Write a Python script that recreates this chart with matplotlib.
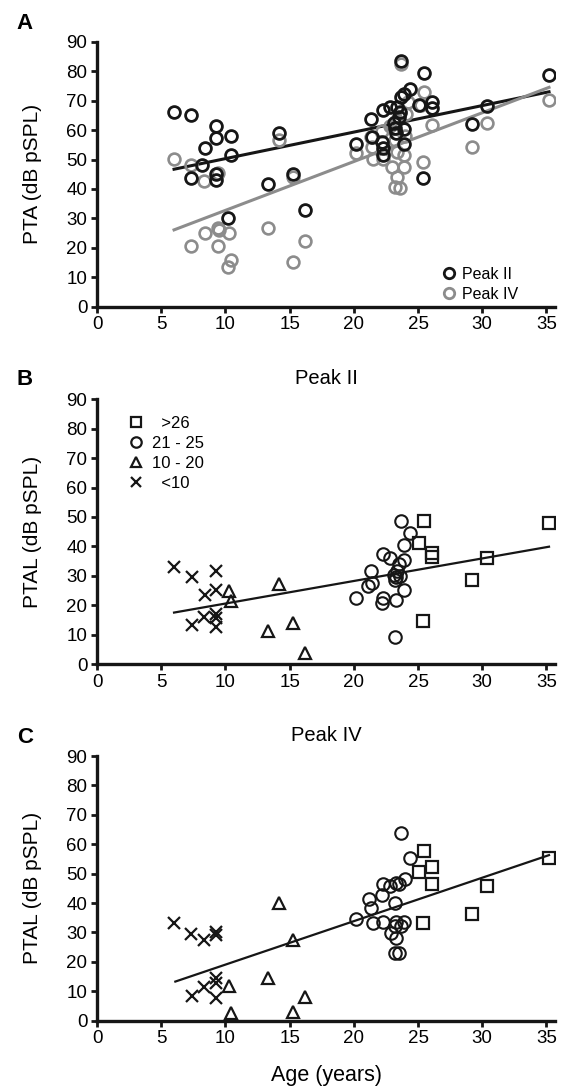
import matplotlib
matplotlib.use("Agg")
import matplotlib.pyplot as plt
from matplotlib.lines import Line2D

plt.rcParams["font.family"] = ["Liberation Sans", "DejaVu Sans"]

# ---- panel A: PTA vs age ----
a2_age = [6.0, 7.3, 9.3, 9.3, 10.4, 8.4, 10.4, 8.2, 7.3, 9.3, 9.3, 14.2, 13.3, 15.3, 16.2, 10.2,
          23.7, 25.5, 35.2, 24.4, 23.9, 23.7, 22.8, 22.3, 23.4, 26.1, 26.1, 21.3, 30.4, 29.2,
          23.2, 20.2, 23.9, 22.3, 22.3, 25.4, 23.5, 23.1, 23.3, 23.6, 21.4, 22.2, 25.1, 23.9]
a2_pta = [66.0, 65.0, 61.4, 57.2, 58.0, 53.8, 51.5, 48.0, 43.6, 43.0, 45.0, 59.0, 41.6, 45.0, 33.0, 30.0,
          83.6, 79.5, 78.7, 73.8, 72.2, 71.3, 67.9, 66.8, 67.9, 69.6, 67.4, 63.6, 68.2, 62.1,
          60.6, 55.2, 55.2, 53.8, 51.5, 43.6, 64.5, 62.5, 59.0, 66.0, 57.5, 56.0, 68.5, 60.5]
a4_age = [6.0, 7.3, 8.3, 9.4, 14.2, 15.3, 7.3, 8.4, 9.4, 9.5, 10.3, 9.4, 10.4, 10.2, 13.3, 16.2, 15.3,
          23.7, 35.2, 25.5, 24.2, 25.2, 30.4, 29.2, 26.1, 20.2, 25.4, 21.3, 21.4, 21.5, 22.3,
          22.2, 23.2, 23.4, 23.9, 23.0, 23.9, 23.4, 23.2, 23.6, 23.6, 24.1, 22.8, 23.3, 24.0]
a4_pta = [50.2, 48.1, 42.8, 45.5, 56.6, 44.2, 20.7, 25.1, 26.8, 26.0, 25.1, 20.7, 15.9, 13.4, 26.8, 22.3, 15.3,
          82.5, 70.2, 73.0, 69.6, 68.5, 62.3, 54.3, 61.7, 52.3, 49.3, 57.7, 54.3, 50.3, 50.3,
          59.6, 56.5, 52.5, 51.5, 47.6, 47.6, 44.2, 40.8, 40.2, 65.9, 65.3, 61.5, 63.0, 58.0]
a2_fit_x = [6.0, 35.2]
a2_fit_y = [46.7, 73.0]
a4_fit_x = [6.0, 35.2]
a4_fit_y = [26.1, 74.5]

# ---- panel B: PTAL Peak II, grouped by age ----
b_sq_age = [25.5, 35.2, 25.1, 26.1, 26.1, 30.4, 29.2, 25.4]
b_sq_val = [48.6, 48.1, 41.3, 37.9, 36.5, 36.2, 28.6, 14.7]
b_ci_age = [23.7, 24.4, 23.9, 22.3, 22.8, 23.9, 23.5, 21.3, 23.1, 23.3, 23.6, 23.2, 21.4,
            21.1, 23.9, 20.2, 22.3, 22.2, 23.3, 23.2, 23.4]
b_ci_val = [48.6, 44.4, 40.5, 37.3, 36.2, 35.4, 34.0, 31.7, 30.3, 29.7, 29.9, 28.6, 27.7,
            26.5, 25.2, 22.3, 22.3, 20.9, 21.8, 9.3, 31.5]
b_tr_age = [10.3, 10.4, 14.2, 13.3, 15.3, 16.2]
b_tr_val = [24.9, 21.5, 27.2, 11.3, 13.8, 3.9]
b_x_age = [6.0, 7.4, 9.3, 8.4, 9.3, 7.4, 8.3, 9.3, 9.3, 9.3]
b_x_val = [32.9, 29.7, 31.7, 23.5, 25.2, 13.3, 16.1, 17.0, 15.5, 12.7]
b_fit_x = [6.0, 35.2]
b_fit_y = [17.5, 39.9]

# ---- panel C: PTAL Peak IV ----
c_sq_age = [25.5, 35.2, 25.1, 26.1, 26.1, 30.4, 29.2, 25.4]
c_sq_val = [57.7, 55.2, 50.7, 52.2, 46.5, 45.8, 36.3, 33.1]
c_ci_age = [23.7, 24.4, 24.0, 23.3, 23.5, 22.3, 22.8, 22.2, 21.2, 21.3, 23.2, 20.2, 21.5,
            22.3, 23.3, 23.9, 23.7, 23.2, 22.9, 23.3, 23.2, 23.5]
c_ci_val = [63.9, 55.2, 48.1, 46.7, 46.5, 46.5, 45.8, 42.7, 41.3, 38.2, 40.1, 34.5, 33.3,
            33.6, 33.6, 33.6, 32.2, 32.2, 29.9, 28.0, 23.1, 23.1]
c_tr_age = [14.2, 15.3, 13.3, 10.3, 16.2, 10.4, 15.3]
c_tr_val = [39.9, 27.4, 14.4, 11.8, 7.9, 2.5, 3.1]
c_x_age = [6.0, 7.3, 8.3, 9.3, 9.3, 9.3, 9.3, 8.3, 7.4, 9.3]
c_x_val = [33.3, 29.5, 27.4, 30.3, 29.2, 14.4, 12.7, 11.6, 8.4, 7.6]
c_fit_x = [6.1, 35.2]
c_fit_y = [13.3, 56.3]

group_labels = ["  >26", "21 - 25", "10 - 20", "  <10"]

BLACK = "#161616"
GRAY = "#8c8c8c"

fig = plt.figure(figsize=(5.62, 10.90), dpi=100)
ax_a = fig.add_axes([0.1726, 0.7186, 0.8157, 0.2431])
ax_b = fig.add_axes([0.1726, 0.3908, 0.8157, 0.2428])
ax_c = fig.add_axes([0.1726, 0.0636, 0.8157, 0.2428])


def style_axis(ax):
    ax.set_xlim(0, 35.7)
    ax.set_ylim(0, 90)
    ax.set_xticks(range(0, 40, 5))
    ax.set_yticks(range(0, 100, 10))
    for side in ("top", "right"):
        ax.spines[side].set_visible(False)
    for side in ("left", "bottom"):
        ax.spines[side].set_linewidth(2.4)
        ax.spines[side].set_color(BLACK)
    ax.tick_params(width=2.0, length=4, labelsize=13.5, color=BLACK, pad=3)
    ax.patch.set_alpha(0)


# panel A
style_axis(ax_a)
ax_a.plot(a2_fit_x, a2_fit_y, color=BLACK, lw=2.2)
ax_a.plot(a4_fit_x, a4_fit_y, color=GRAY, lw=2.2)
ax_a.plot(a4_age, a4_pta, "o", ms=8.5, mfc="none", mec=GRAY, mew=1.9)
ax_a.plot(a2_age, a2_pta, "o", ms=8.5, mfc="none", mec=BLACK, mew=2.0)
ax_a.set_ylabel("PTA (dB pSPL)", fontsize=15)
handles = [Line2D([], [], ls="none", marker="o", ms=7.5, mfc="none", mec=BLACK, mew=2.0),
           Line2D([], [], ls="none", marker="o", ms=7.5, mfc="none", mec=GRAY, mew=2.0)]
ax_a.legend(handles, ["Peak II", "Peak IV"], loc="lower left", bbox_to_anchor=(0.715, -0.035),
            frameon=False, fontsize=11.5, handletextpad=0.25, labelspacing=0.3, handlelength=1.2)


def group_panel(ax, sq, ci, tr, xx, fit, title):
    style_axis(ax)
    ax.plot(fit[0], fit[1], color=BLACK, lw=1.6)
    ax.plot(sq[0], sq[1], "s", ms=8, mfc="none", mec=BLACK, mew=1.6)
    ax.plot(ci[0], ci[1], "o", ms=9, mfc="none", mec=BLACK, mew=1.5)
    ax.plot(tr[0], tr[1], "^", ms=8.5, mfc="none", mec=BLACK, mew=1.6)
    ax.plot(xx[0], xx[1], "x", ms=8, color=BLACK, mew=1.6)
    ax.set_ylabel("PTAL (dB pSPL)", fontsize=15)
    ax.set_title(title, fontsize=14.5, pad=11)


group_panel(ax_b, (b_sq_age, b_sq_val), (b_ci_age, b_ci_val), (b_tr_age, b_tr_val),
            (b_x_age, b_x_val), (b_fit_x, b_fit_y), "Peak II")
group_panel(ax_c, (c_sq_age, c_sq_val), (c_ci_age, c_ci_val), (c_tr_age, c_tr_val),
            (c_x_age, c_x_val), (c_fit_x, c_fit_y), "Peak IV")

legend_handles = [
    Line2D([], [], ls="none", marker="s", ms=7, mfc="none", mec=BLACK, mew=1.6),
    Line2D([], [], ls="none", marker="o", ms=7.5, mfc="none", mec=BLACK, mew=1.6),
    Line2D([], [], ls="none", marker="^", ms=7, mfc="none", mec=BLACK, mew=1.6),
    Line2D([], [], ls="none", marker="x", ms=7, color=BLACK, mew=1.6),
]
ax_b.legend(legend_handles, group_labels, loc="upper left", bbox_to_anchor=(0.03, 0.995),
            frameon=False, fontsize=12, handletextpad=0.4, labelspacing=0.3, handlelength=1.2)

ax_c.set_xlabel("Age (years)", fontsize=15.5, labelpad=13)

for letter, y in (("A", 0.978), ("B", 0.652), ("C", 0.323)):
    fig.text(0.03, y, letter, fontsize=16, fontweight="bold", va="center", ha="left")

for ax in (ax_a, ax_b, ax_c):
    ax.yaxis.set_label_coords(-0.12, 0.5)

fig.savefig("out.png", dpi=100)
